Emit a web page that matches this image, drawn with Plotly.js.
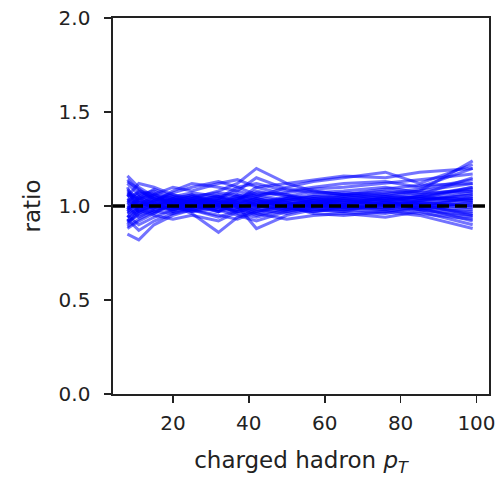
<!DOCTYPE html>
<html>
<head>
<meta charset="utf-8">
<script src="https://cdn.plot.ly/plotly-3.0.1.min.js"></script>
<style>html,body{margin:0;padding:0;background:#fff;}</style>
</head>
<body>
<div id="chart" style="width:495px;height:478px;"></div>
<script>
const pt = [8, 11, 15, 20, 25, 32, 37, 42, 50, 57, 65, 76, 85, 99];
const s1 = [1.16,1.10,1.05,1.02,1.04,1.08,1.12,1.20,1.12,1.08,1.06,1.05,1.08,1.24];
const s2 = [0.85,0.82,0.90,0.95,0.98,1.00,0.97,0.99,1.02,1.00,1.01,1.03,1.05,1.10];
const s3 = [1.12,1.06,1.02,1.08,1.12,1.10,1.08,1.05,1.10,1.13,1.15,1.18,1.12,1.22];
const s4 = [0.92,0.95,0.98,1.00,0.96,0.86,0.94,0.98,0.96,0.99,1.00,1.02,1.00,0.98];
const s5 = [1.05,1.12,1.10,1.06,1.02,1.04,1.10,1.12,1.08,1.10,1.12,1.13,1.10,1.20];
const s6 = [0.95,0.90,0.94,0.98,1.01,1.03,1.00,0.88,0.95,0.98,0.97,0.96,0.99,0.92];
const s7 = [1.08,1.02,1.00,1.04,1.06,1.02,1.04,1.08,1.05,1.04,1.06,1.08,1.06,1.15];
const s8 = [0.98,1.04,1.06,1.02,1.00,0.98,1.00,1.02,1.00,1.02,1.04,1.03,1.05,1.08];
const s9 = [1.10,0.96,1.00,0.99,1.03,1.05,1.02,1.00,1.03,1.05,1.04,1.06,1.08,1.12];
const s10 = [0.88,0.92,0.96,1.02,1.00,0.97,0.99,1.03,0.99,0.97,0.99,1.00,0.98,0.95];
const s11 = [1.02,1.08,1.04,1.00,0.97,0.99,1.03,1.10,1.06,1.03,1.02,1.04,1.03,1.06];
const s12 = [0.96,1.00,1.03,0.97,0.99,1.01,0.96,0.94,0.98,1.01,1.00,0.99,1.01,1.03];
const s13 = [1.14,1.08,1.06,1.10,1.08,1.12,1.14,1.10,1.12,1.14,1.16,1.15,1.18,1.20];
const s14 = [0.90,0.98,0.95,0.93,0.95,0.92,0.97,0.96,0.93,0.95,0.96,0.94,0.97,0.90];
const s15 = [1.00,0.94,0.98,1.01,1.04,1.00,1.01,1.05,1.02,1.00,0.98,1.01,1.02,1.04];
const s16 = [1.06,1.00,1.02,1.05,1.01,1.06,1.05,1.02,1.04,1.06,1.07,1.06,1.04,1.10];
const s17 = [0.93,0.87,0.92,0.96,0.98,0.95,0.93,0.97,1.00,0.96,0.95,0.97,0.95,0.88];
const s18 = [1.03,1.06,1.08,1.03,1.05,1.07,1.06,1.04,1.01,1.03,1.05,1.07,1.09,1.14];
const s19 = [0.97,1.02,0.99,1.03,1.02,1.00,1.02,0.99,1.04,1.02,1.01,1.00,1.02,1.00];
const s20 = [1.09,1.03,1.07,0.99,1.02,1.04,1.08,1.15,1.09,1.07,1.08,1.10,1.07,1.08];
const s21 = [0.94,0.97,1.01,1.04,0.98,0.94,0.98,1.01,0.97,0.99,0.98,0.97,1.00,0.96];
const s22 = [1.01,1.05,0.97,0.96,1.00,1.03,1.01,0.97,1.01,1.00,1.03,1.02,0.99,1.05];
const s23 = [0.89,0.93,0.97,1.00,1.03,0.98,0.95,0.92,0.97,1.00,0.99,0.98,0.96,0.93];
const s24 = [1.13,1.09,1.03,1.07,1.10,1.13,1.10,1.06,1.07,1.09,1.10,1.12,1.14,1.17];
const s25 = [0.99,1.01,1.05,1.01,0.97,1.01,1.04,1.06,1.03,1.01,1.02,1.01,1.04,1.02];
const s26 = [1.04,0.99,1.01,0.98,1.01,0.99,0.98,1.03,0.99,1.04,1.03,1.05,1.01,0.99];
const s27 = [0.91,0.96,1.00,1.02,1.05,1.02,0.99,0.95,0.99,0.97,1.00,0.99,0.98,0.94];
const s28 = [1.07,1.04,1.09,1.05,1.07,1.05,1.03,1.01,1.05,1.08,1.06,1.09,1.11,1.12];
const s29 = [1.00,1.03,1.02,0.99,1.03,1.02,1.00,1.01,1.02,0.99,1.01,1.03,1.00,1.01];
const s30 = [0.96,0.98,1.00,1.04,1.01,0.97,1.02,1.04,1.00,1.03,1.00,0.98,1.03,1.06];
const s31 = [1.05,1.07,1.04,1.02,0.99,1.03,1.05,1.00,1.03,1.05,1.06,1.04,1.06,1.09];
const s32 = [0.94,1.00,0.96,1.01,1.03,1.00,0.97,1.00,0.98,1.02,1.03,1.01,0.99,0.97];
const s33 = [1.02,0.97,1.03,1.06,1.04,1.01,1.03,1.07,1.06,1.01,0.99,1.02,1.05,1.03];
const s34 = [0.98,1.05,1.01,0.98,1.00,1.04,0.99,0.98,1.01,1.04,1.02,1.04,1.02,1.00];
const s35 = [1.07,1.01,0.99,1.03,1.06,1.00,1.06,1.03,0.98,1.00,1.04,1.00,1.03,1.07];
const s36 = [0.92,0.99,1.04,1.00,0.98,1.02,1.00,0.96,1.01,0.98,0.97,1.02,1.01,0.95];
const s37 = [1.03,1.00,1.06,1.04,1.02,0.97,1.04,1.01,1.04,1.02,1.05,1.03,0.98,1.02];
const s38 = [0.97,1.03,1.00,0.97,1.04,1.05,1.01,1.04,1.00,1.01,1.00,1.05,1.04,1.04];
const series = [s1,s2,s3,s4,s5,s6,s7,s8,s9,s10,s11,s12,s13,s14,s15,s16,s17,s18,s19,
  s20,s21,s22,s23,s24,s25,s26,s27,s28,s29,s30,s31,s32,s33,s34,s35,s36,s37,s38];
const refLevel = 1.0;
const xTicks = [20, 40, 60, 80, 100];
const yTicks = [0, 0.5, 1.0, 1.5, 2.0];

const traces = series.map(s => ({
  x: pt, y: s, type: 'scatter', mode: 'lines',
  line: {color: 'rgba(0,0,255,0.55)', width: 3},
  hoverinfo: 'skip', showlegend: false
}));

const font = {family: 'DejaVu Sans', size: 20, color: '#222'};
const titleFont = {family: 'DejaVu Sans', size: 23, color: '#222'};
const layout = {
  width: 495, height: 478,
  margin: {l: 113, r: 6, t: 18, b: 84},
  paper_bgcolor: '#fff', plot_bgcolor: '#fff',
  font: font,
  showlegend: false,
  xaxis: {
    range: [4.2, 103.3], tickvals: xTicks, ticks: 'outside', ticklen: 7, tickwidth: 1.6,
    tickcolor: '#222', showgrid: false, zeroline: false, ticklabelstandoff: 3,
    ticklabeloverflow: 'allow',
    showline: true, linecolor: '#222', linewidth: 1.6, mirror: true,
    title: {text: 'charged hadron <i>p</i><sub><i>T</i></sub>', font: titleFont, standoff: 18}
  },
  yaxis: {
    range: [0, 2], tickvals: yTicks, tickformat: '.1f', ticks: 'outside', ticklen: 7, tickwidth: 1.6,
    tickcolor: '#222', showgrid: false, zeroline: false, ticklabelstandoff: 10,
    showline: true, linecolor: '#222', linewidth: 1.6, mirror: true,
    title: {text: 'ratio', font: titleFont, standoff: 11}
  },
  shapes: [{
    type: 'line', xref: 'paper', x0: 0, x1: 1, yref: 'y', y0: refLevel, y1: refLevel,
    line: {color: '#000', width: 3.6, dash: '12px,6px'}
  }]
};
Plotly.newPlot('chart', traces, layout, {staticPlot: true, displayModeBar: false});
</script>
</body>
</html>
